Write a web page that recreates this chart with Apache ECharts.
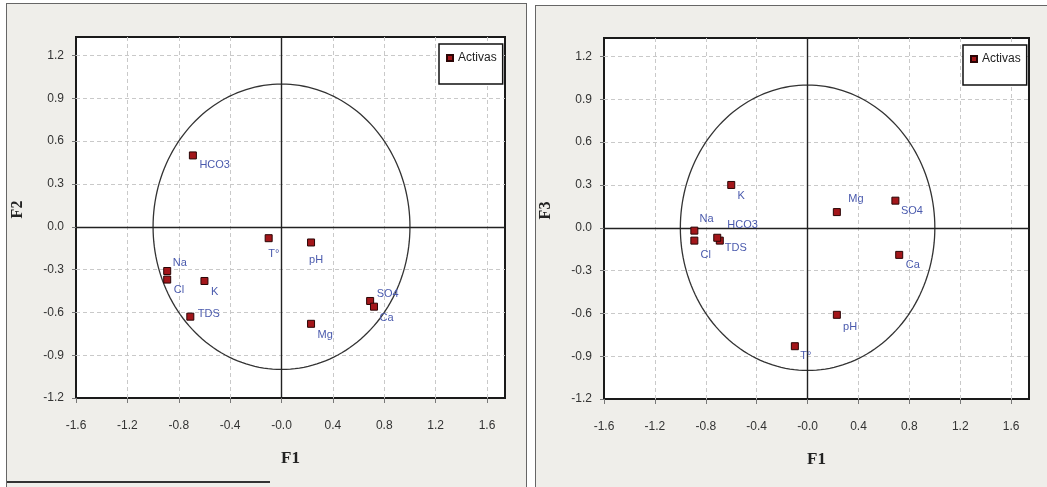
<!DOCTYPE html>
<html><head><meta charset="utf-8">
<script src="https://cdn.jsdelivr.net/npm/echarts@6/dist/echarts.min.js"></script>
<style>
html,body{margin:0;padding:0;background:#fff;width:1047px;height:487px;overflow:hidden;position:relative}
.panel{position:absolute;background:#efeeea;border:1px solid #666;box-sizing:border-box}
#p1{left:6px;top:3px;width:521px;height:520px}
#p2{left:535px;top:5px;width:540px;height:520px}
.chart{position:absolute;left:0;top:0;width:519px;height:500px}
#p2 .chart{width:538px}
#art{position:absolute;left:7px;top:481px;width:263px;height:2px;background:#333}
</style></head>
<body>
<div class="panel" id="p1"><div class="chart" id="c1"></div></div>
<div class="panel" id="p2"><div class="chart" id="c2"></div></div>
<div id="art"></div>
<script>
// ---- data ----
const variables = ['HCO3', 'T°', 'pH', 'Na', 'Cl', 'K', 'TDS', 'SO4', 'Ca', 'Mg'];
const f1 = [-0.69, -0.10, 0.23, -0.89, -0.89, -0.60, -0.71, 0.69, 0.72, 0.23];
const f2 = [0.50, -0.08, -0.11, -0.31, -0.37, -0.38, -0.63, -0.52, -0.56, -0.68];
const f3 = [-0.09, -0.83, -0.61, -0.02, -0.09, 0.30, -0.07, 0.19, -0.19, 0.11];
const xTickLabels = ['-1.6', '-1.2', '-0.8', '-0.4', '-0.0', '0.4', '0.8', '1.2', '1.6'];
const yTickLabels = ['-1.2', '-0.9', '-0.6', '-0.3', '0.0', '0.3', '0.6', '0.9', '1.2'];
const legendName = 'Activas';

// ---- label placement (style) ----
const labelOffsets1 = {'HCO3':[6,10],'T°':[-1,16],'pH':[-2.5,17],'Na':[5,-8],'Cl':[6,10],'K':[6,11],'TDS':[7,-3],'SO4':[6,-7],'Ca':[5,11],'Mg':[6,11]};
const labelOffsets2 = {'HCO3':[7,-16],'T°':[5,10],'pH':[5.7,11.7],'Na':[4.7,-12],'Cl':[5.7,14.3],'K':[5.7,11.3],'TDS':[7,10],'SO4':[5,10],'Ca':[6,10.3],'Mg':[11,-12.7]};

const SYM = 7;
function fmtX(v){ const i = Math.round((v + 1.6) / 0.4); return (Math.abs(v - (-1.6 + i*0.4)) < 1e-6 && xTickLabels[i]) ? xTickLabels[i] : ''; }
function fmtY(v){ const i = Math.round((v + 1.2) / 0.3); return (Math.abs(v - (-1.2 + i*0.3)) < 1e-6 && yTickLabels[i]) ? yTickLabels[i] : ''; }

function makeOption(yVals, yName, offsets, grid, legendPos){
  const data = variables.map((n, i) => ({
    name: n, value: [f1[i], yVals[i]],
    label: { offset: [offsets[n][0] - SYM/2, offsets[n][1]] }
  }));
  return {
    animation: false,
    legend: {
      data: [legendName], left: legendPos[0], top: legendPos[1], orient: 'vertical',
      icon: 'rect', itemWidth: 6, itemHeight: 6, itemGap: 4,
      backgroundColor: '#fff', borderColor: '#111', borderWidth: 1.5, borderRadius: 0,
      padding: [8, 6, 20, 7],
      textStyle: { fontSize: 12, color: '#222', fontFamily: 'Liberation Sans' }
    },
    grid: { left: grid[0], top: grid[1], width: grid[2], height: grid[3], show: true,
      outerBoundsMode: 'none', containLabel: false,
      backgroundColor: '#fff', borderColor: '#1a1a1a', borderWidth: 2 },
    xAxis: {
      type: 'value', min: -1.6, max: 1.74, interval: 0.4,
      name: 'F1', nameLocation: 'middle', nameGap: 52,
      nameTextStyle: { fontFamily: 'Liberation Serif', fontWeight: 'bold', fontSize: 17, color: '#222' },
      axisLine: { show: false, onZero: false },
      axisTick: { show: true, length: 5, lineStyle: { color: '#777' } },
      axisLabel: { margin: 22, fontSize: 12, color: '#333', fontFamily: 'Liberation Sans', formatter: fmtX, showMaxLabel: false },
      splitLine: { show: true, showMinLine: false, showMaxLine: false, lineStyle: { color: '#c9c9c9', type: [4, 3], width: 1 } }
    },
    yAxis: {
      type: 'value', min: -1.2, max: 1.33, interval: 0.3,
      name: yName, nameLocation: 'middle', nameGap: 50,
      nameTextStyle: { fontFamily: 'Liberation Serif', fontWeight: 'bold', fontSize: 16, color: '#222', padding: [0, 0, 0, 16] },
      axisLine: { show: false, onZero: false },
      axisTick: { show: true, length: 4, lineStyle: { color: '#777' } },
      axisLabel: { margin: 12, fontSize: 12, color: '#333', fontFamily: 'Liberation Sans', formatter: fmtY, showMaxLabel: false },
      splitLine: { show: true, showMinLine: false, showMaxLine: false, lineStyle: { color: '#c9c9c9', type: [4, 3], width: 1 } }
    },
    series: [
      {
        type: 'custom', silent: true, clip: false, z: 1,
        data: [[0, 0]],
        renderItem: function(params, api){
          const pts = [];
          for (let k = 0; k <= 180; k++) { const a = k / 180 * 2 * Math.PI; pts.push(api.coord([Math.cos(a), Math.sin(a)])); }
          return { type: 'polyline', shape: { points: pts }, style: { stroke: '#333', lineWidth: 1.3, fill: null } };
        }
      },
      {
        name: legendName, type: 'scatter', symbol: 'rect', symbolSize: SYM, z: 5,
        itemStyle: { color: '#a3161a', borderColor: '#2a0505', borderWidth: 1, opacity: 1 },
        label: { show: true, position: 'right', distance: 0, formatter: '{b}', fontSize: 11, color: '#4a5aad', fontFamily: 'Liberation Sans' },
        data: data,
        markLine: {
          silent: true, symbol: 'none', animation: false,
          label: { show: false },
          lineStyle: { color: '#222', type: 'solid', width: 1.4 },
          data: [{ xAxis: 0 }, { yAxis: 0 }]
        }
      }
    ]
  };
}

const c1 = echarts.init(document.getElementById('c1'), null, { renderer: 'canvas' });
c1.setOption(makeOption(f2, 'F2', labelOffsets1, [69, 33, 429, 361], [432, 40]));
const c2 = echarts.init(document.getElementById('c2'), null, { renderer: 'canvas' });
c2.setOption(makeOption(f3, 'F3', labelOffsets2, [68, 32, 425, 361], [427, 39]));
</script>
</body></html>
